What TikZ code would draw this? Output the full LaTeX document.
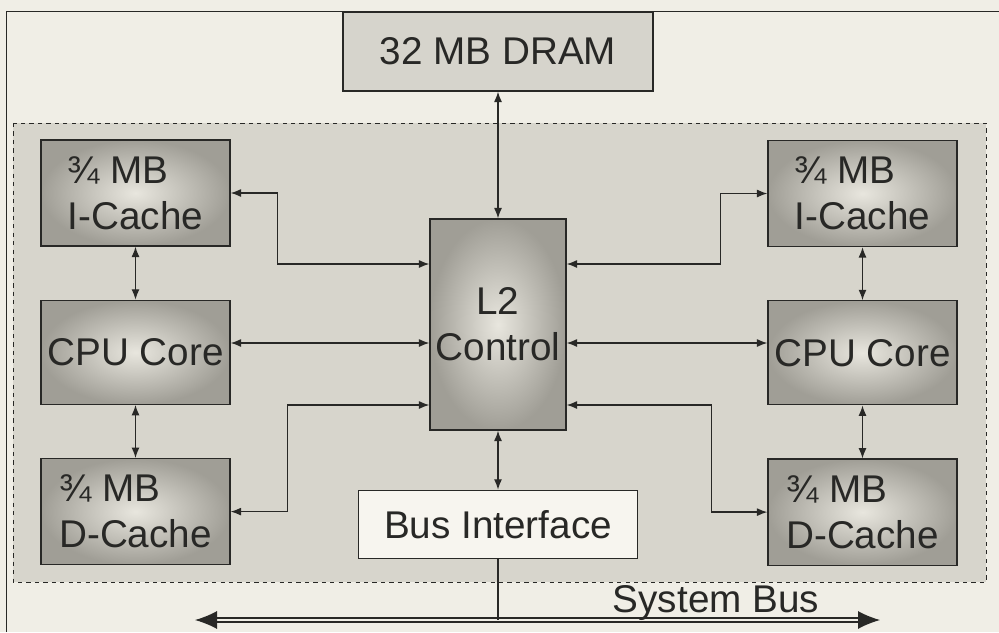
\documentclass[tikz,border=0pt]{standalone}
\usepackage{fontspec}
\setmainfont{Liberation Sans}
\usetikzlibrary{arrows.meta,positioning,shadings}
\definecolor{paper}{RGB}{240,238,230}
\definecolor{chip}{RGB}{215,213,204}
\definecolor{boxout}{RGB}{160,158,150}
\definecolor{boxin}{RGB}{232,230,222}
\definecolor{dram}{RGB}{214,212,204}
\definecolor{ifc}{RGB}{247,245,239}
\definecolor{ink}{RGB}{40,40,38}

\begin{document}
\begin{tikzpicture}[x=0.025cm, y=-0.025cm,
  every node/.style={font=\fontsize{27.5}{32.5}\selectfont, text=ink},
  unit/.style={draw=ink, line width=0.9pt, inner sep=0pt, align=center,
               shading=radial, inner color=boxin, outer color=boxout},
  cache/.style={unit, align=left, minimum width=4.725cm, minimum height=2.65cm},
  core/.style={unit, minimum width=4.725cm, minimum height=2.6cm},
  plain/.style={draw=ink, line width=0.9pt, inner sep=0pt},
  link/.style={{Latex[length=2.6mm,width=2mm]}-{Latex[length=2.6mm,width=2mm]},
               draw=ink, line width=0.9pt},
  sysbus/.style={{Latex[length=5.5mm,width=4.5mm]}-{Latex[length=5.5mm,width=4.5mm]},
               draw=ink, line width=0.8pt, double=paper, double distance=2pt}]
  \useasboundingbox (0,0) rectangle (999,632);
  \fill[paper] (0,0) rectangle (999,632);
  \draw[ink, line width=0.7pt] (6,632) -- (6,11) -- (999,11);
  \draw[ink, dashed, line width=0.7pt, fill=chip] (13,123) rectangle (986,582);

  \node[unit, minimum width=3.4cm, minimum height=5.275cm] (l2) at (498,324.5) {L2\\Control};
  \node[plain, fill=dram, minimum width=7.75cm, minimum height=1.975cm] (dram) at (498,51.5) {32 MB DRAM};
  \node[plain, fill=ifc, minimum width=6.975cm, minimum height=1.7cm, below=1.475cm of l2] (bus) {Bus Interface};

  \node[cache] (li) at (135.5,193) {¾ MB\\I-Cache};
  \node[core, below=1.325cm of li] (lc) {CPU Core};
  \node[cache, below=1.325cm of lc] (ld) {¾ MB\\D-Cache};
  \node[cache] (ri) at (862.5,193.5) {¾ MB\\I-Cache};
  \node[core, below=1.325cm of ri] (rc) {CPU Core};
  \node[cache, below=1.325cm of rc] (rd) {¾ MB\\D-Cache};

  \draw[link] (dram) -- (l2);
  \draw[link] (l2) -- (bus);
  \draw[link] (li) -- (lc);
  \draw[link] (lc) -- (ld);
  \draw[link] (ri) -- (rc);
  \draw[link] (rc) -- (rd);
  \draw[link] (li.east) -- ++(47,0) |- (l2.west |- 0,264);
  \draw[link] (lc.east |- 0,343) -- (l2.west |- 0,343);
  \draw[link] (ld.east) -- ++(57,0) |- (l2.west |- 0,405);
  \draw[link] (l2.east |- 0,264) -- ++(154,0) |- (ri.west);
  \draw[link] (l2.east |- 0,343) -- (rc.west |- 0,343);
  \draw[link] (l2.east |- 0,405) -- ++(145,0) |- (rd.west);

  \coordinate (busl) at (195,620);
  \coordinate (busr) at (880,620);
  \draw[sysbus] (busl) -- (busr);
  \draw[ink, line width=0.9pt] (bus.south) -- (bus.south |- busl);
  \node (sysname) at (716,603) {System Bus};
\end{tikzpicture}
\end{document}
